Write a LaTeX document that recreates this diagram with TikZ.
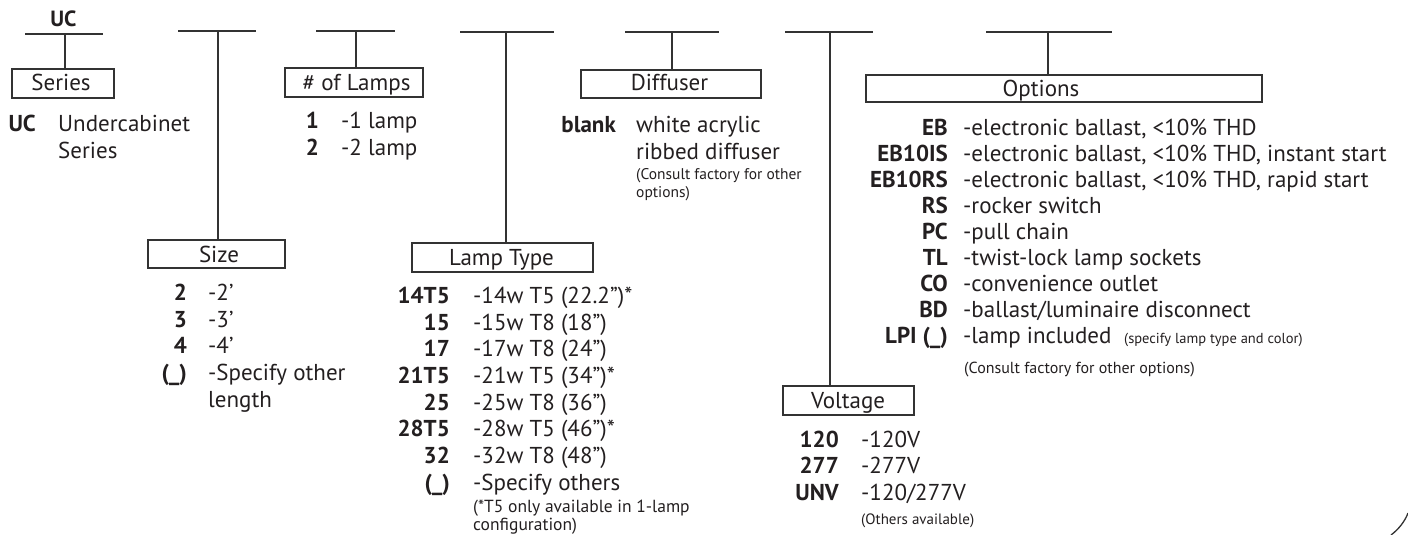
\documentclass[tikz,border=0pt]{standalone}
\usepackage{fontspec}
\setmainfont{PT Sans}
\definecolor{ink}{HTML}{231F20}
\definecolor{linec}{HTML}{333333}
\newcommand\spec[6]{%
  \node[code] (#1c) at (#2,#4) {#5};
  \node[desc] (#1d) at (#3,#4) {#6};}
\begin{document}
\begin{tikzpicture}[x=1pt,y=-1pt,
  code/.style={font=\bfseries\fontsize{23}{23}\selectfont, text=ink, anchor=base east, inner sep=0pt},
  desc/.style={font=\fontsize{23}{23}\selectfont, text=ink, anchor=base west, inner sep=0pt},
  note/.style={font=\fontsize{15.5}{15.5}\selectfont, text=ink, anchor=base west, inner sep=0pt},
  cat/.style={font=\fontsize{23}{23}\selectfont, text=ink, anchor=base, inner sep=0pt},
  catbox/.style={draw=linec, line width=1.1pt, inner sep=0pt},
  ln/.style={draw=linec, line width=1.1pt}]
\useasboundingbox (0,0) rectangle (1408,535);

% ---------- Series ----------
\node[font=\bfseries\fontsize{22}{22}\selectfont, text=ink, anchor=base, inner sep=0pt] (ucT) at (63.5,27) {UC};
\coordinate (sL) at (25,34); \coordinate (sR) at (103,34); \coordinate (sM) at (65,34);
\node[catbox, minimum width=102pt, minimum height=29pt] (series) at (63,83.5) {};
\node[cat] (seriesT) at (61,91) {Series};
\draw[ln] (sL) -- (sR);
\draw[ln] (sM) -- (sM |- series.north);
\spec{uc}{36}{58}{131}{UC}{Undercabinet}
\node[desc] (uc2) at (58,158) {Series};

% ---------- Size ----------
\coordinate (zL) at (178,31); \coordinate (zR) at (256,31); \coordinate (zM) at (218,31);
\node[catbox, minimum width=137pt, minimum height=28pt] (size) at (216.5,254) {};
\node[cat] (sizeT) at (219,262) {Size};
\draw[ln] (zL) -- (zR);
\draw[ln] (zM) -- (zM |- size.north);
\spec{z1}{187}{208}{300}{2}{-2’}
\spec{z2}{187}{208}{327}{3}{-3’}
\spec{z3}{187}{208}{353}{4}{-4’}
\spec{z4}{187}{208}{380}{(\_)}{-Specify other}
\node[desc] (z5) at (208,407) {length};

% ---------- # of Lamps ----------
\coordinate (nL) at (316,31); \coordinate (nR) at (395,31); \coordinate (nM) at (356,31);
\node[catbox, minimum width=138pt, minimum height=29pt] (lamps) at (354,82.5) {};
\node[cat] (lampsT) at (356.5,90) {\# of Lamps};
\draw[ln] (nL) -- (nR);
\draw[ln] (nM) -- (nM |- lamps.north);
\spec{n1}{319}{341}{128}{1}{-1 lamp}
\spec{n2}{319}{341}{155}{2}{-2 lamp}

% ---------- Lamp Type ----------
\coordinate (tL) at (460,32); \coordinate (tR) at (554,32); \coordinate (tM) at (506,32);
\node[catbox, minimum width=181pt, minimum height=29pt] (ltype) at (502.5,257.5) {};
\node[cat] (ltypeT) at (501.5,265) {Lamp Type};
\draw[ln] (tL) -- (tR);
\draw[ln] (tM) -- (tM |- ltype.north);
\spec{t1}{450}{473}{303}{14T5}{-14w T5 (22.2”)*}
\spec{t2}{450}{473}{330}{15}{-15w T8 (18”)}
\spec{t3}{450}{473}{356}{17}{-17w T8 (24”)}
\spec{t4}{450}{473}{383}{21T5}{-21w T5 (34”)*}
\spec{t5}{450}{473}{410}{25}{-25w T8 (36”)}
\spec{t6}{450}{473}{436}{28T5}{-28w T5 (46”)*}
\spec{t7}{450}{473}{463}{32}{-32w T8 (48”)}
\spec{t8}{450}{473}{490}{(\_)}{-Specify others}
\node[note, font=\fontsize{17.5}{17.5}\selectfont] (t9) at (473,512) {(*T5 only available in 1-lamp};
\node[note, font=\fontsize{17.5}{17.5}\selectfont] (t10) at (473,530) {configuration)};

% ---------- Diffuser ----------
\coordinate (dL) at (625,32); \coordinate (dR) at (719,32); \coordinate (dM) at (672,32);
\node[catbox, minimum width=180pt, minimum height=28pt] (diff) at (671,84) {};
\node[cat] (diffT) at (669.5,91) {Diffuser};
\draw[ln] (dL) -- (dR);
\draw[ln] (dM) -- (dM |- diff.north);
\spec{d1}{616}{636}{132}{blank}{white acrylic}
\node[desc] (d2) at (636,159) {ribbed diffuser};
\node[note] (d3) at (636,179) {(Consult factory for other};
\node[note] (d4) at (636,197) {options)};

% ---------- Voltage ----------
\coordinate (vL) at (785,32); \coordinate (vR) at (873,32); \coordinate (vM) at (830,32);
\node[catbox, minimum width=131pt, minimum height=29pt] (volt) at (848.5,400.5) {};
\node[cat] (voltT) at (848,408) {Voltage};
\draw[ln] (vL) -- (vR);
\draw[ln] (vM) -- (vM |- volt.north);
\spec{v1}{839}{861}{447}{120}{-120V}
\spec{v2}{839}{861}{473}{277}{-277V}
\spec{v3}{839}{861}{500}{UNV}{-120/277V}
\node[note, font=\fontsize{15}{15}\selectfont] (v4) at (861,524) {(Others available)};

% ---------- Options ----------
\coordinate (oL) at (986,32); \coordinate (oR) at (1112,32); \coordinate (oM) at (1048,32);
\node[catbox, minimum width=396pt, minimum height=27pt] (opt) at (1064,88.5) {};
\node[cat] (optT) at (1041,96) {Options};
\draw[ln] (oL) -- (oR);
\draw[ln] (oM) -- (oM |- opt.north);
\spec{o1}{948}{963}{135}{EB}{-electronic ballast, <10\% THD}
\spec{o2}{948}{963}{161}{EB10IS}{-electronic ballast, <10\% THD, instant start}
\spec{o3}{948}{963}{187}{EB10RS}{-electronic ballast, <10\% THD, rapid start}
\spec{o4}{948}{963}{213}{RS}{-rocker switch}
\spec{o5}{948}{963}{239}{PC}{-pull chain}
\spec{o6}{948}{963}{265}{TL}{-twist-lock lamp sockets}
\spec{o7}{948}{963}{291}{CO}{-convenience outlet}
\spec{o8}{948}{963}{317}{BD}{-ballast/luminaire disconnect}
\spec{o9}{948}{963}{343}{LPI (\_)}{-lamp included}
\node[note, font=\fontsize{14.5}{14.5}\selectfont] (o9s) at (1124,343) {(specify lamp type and color)};
\node[note, font=\fontsize{16}{16}\selectfont] (o10) at (964,373) {(Consult factory for other options)};

% ---------- page corner ----------
\draw[linec, line width=1.3pt] (1391,535) .. controls (1399,529) and (1405,521) .. (1408,513);
\end{tikzpicture}
\end{document}
